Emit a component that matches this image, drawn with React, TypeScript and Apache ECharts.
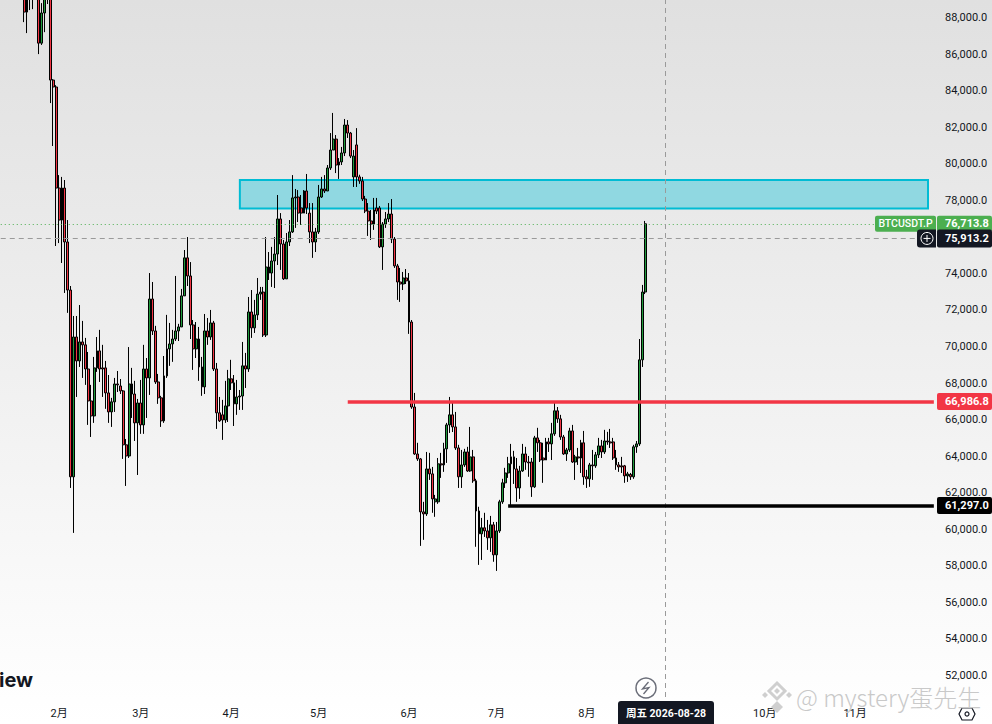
import React, { useEffect, useRef } from "react";
import * as echarts from "echarts";

type Row = number[];
// Each row: open, close, low, high
const candlesJan: Row[] = [
  [89500,88300,87750,89780],[88300,89500,87150,89610],[89230,89500,88410,89610],[89200,89500,88460,89700],
  [89300,89450,89000,89600],[89230,86600,86000,89390],[86600,88250,86500,88790],[88250,89230,87200,89390],
  [89230,89350,88740,89500],[89350,84580,83320,89500],[84580,84200,80970,84630],[84200,78670,75500,84300],
];
const candlesFeb: Row[] = [
  [78670,76920,75660,79380],[76920,78670,74570,79280],[78670,75720,72930,79110],[75720,73090,71840,76920],
  [73090,62870,62260,73310],[62870,70520,59800,71670],[70520,69210,67240,71670],[69210,70250,68880,72270],
  [70250,70090,68280,71400],[70090,68770,67900,70470],[68770,67020,65710,69700],[67020,66200,65050,67900],
  [66200,68830,65820,69430],[68830,69760,68610,70520],[69760,68770,68060,70910],[68830,68770,67240,70090],
  [68830,67460,66590,69210],[67460,66420,65820,68440],[66420,66970,65600,67190],[66970,67950,66420,68280],
  [67950,67900,67510,68660],[67840,67570,67400,68220],[67570,64620,63850,67620],[64620,64010,62370,64940],
  [64010,67950,63900,69970],[67950,67400,66090,68830],[67400,65820,64830,68120],[65820,66910,62970,67130],
];
const candlesMar: Row[] = [
  [66910,65710,65220,68170],[65710,68770,65220,70090],[68770,68280,66090,69370],[68280,72600,67350,74020],
  [72600,70850,70630,73530],[70850,68060,67950,71130],[68060,67190,66860,68500],[67190,65930,65600,67300],
  [65930,68390,65820,69480],[68390,69870,68280,71730],[69870,70140,68940,71290],[70140,70410,69160,70910],
  [70410,70850,70300,73860],[70850,71070,70300,71240],[71070,72770,71070,73150],[72770,74850,72770,75280],
  [74850,73860,73310,75990],[73860,71180,70410,74620],[71180,69870,68720,71450],[69870,70410,69370,71340],
  [70410,68880,68120,71070],[68880,67790,67300,69430],[67790,70850,67400,71780],[70850,70520,70090,71560],
  [70520,71290,70360,72000],[71290,68770,68660,71400],[68770,66370,65490,69100],[66370,65930,65870,67240],
  [66260,65980,64890,67080],[65980,66750,65820,68120],[66750,68230,65870,68720],
];
const candlesApr: Row[] = [
  [68230,68010,67620,69270],[68010,66860,65650,68440],[66860,67240,66260,68170],[67240,67290,66530,67620],
  [67290,68940,66530,70250],[68940,68770,67730,69650],[68770,71890,68610,72710],[71890,71020,70470,73090],
  [71020,71730,70740,72550],[71730,72870,71450,73750],[72870,72980,72550,73260],[72980,70630,70520,73260],
  [70630,74350,70520,75990],[74350,74020,73640,75170],[74020,74680,73260,75450],[74680,75060,73200,75990],
  [75060,76980,74460,78290],[76980,75610,74190,77300],[75610,73700,73640,75830],[73700,75720,73700,76210],
  [75720,76270,75500,76920],[76270,78130,76210,79380],[78130,78180,76490,78620],[78180,77300,76810,78560],
  [77580,77300,76650,78290],[77300,78510,77300,78560],[78510,77580,77250,79440],[77300,76270,75660,77850],
  [76270,75720,74850,77850],[75720,76270,75170,76490],
];
const candlesMay: Row[] = [
  [76270,78180,76160,78840],[78180,78620,78130,79280],[78620,78510,78400,79380],[78510,79770,78510,79930],
  [79770,80750,79660,81680],[80750,81350,80750,82780],[81350,79930,79490,81570],[79930,80100,79170,80310],
  [80100,80590,79930,80920],[80590,82120,80420,82450],[82120,81680,81410,82390],[81680,80420,80310,81740],
  [79280,80420,78730,80750],[81030,79280,78730,81950],[79280,79060,78900,79400],[79060,78070,77960,79280],
  [78070,77410,77300,78240],[77410,76870,76050,77850],[76870,76700,75830,77470],[76700,77470,76380,78130],
  [77580,77410,77250,78130],[77580,75450,75390,77690],[75450,76700,74190,76810],[76700,76980,76490,77360],
  [76980,77250,76810,77850],[77250,75880,75660,78070],[75880,74410,74300,75990],[74410,73530,72550,74520],
  [73530,73420,72440,74300],[73420,73750,73090,74080],[73750,73590,73420,74240],
];
const candlesJun: Row[] = [
  [73590,71340,70690,74020],[71340,66690,66590,71450],[66690,64120,64070,67460],[64120,63850,63740,64730],
  [63850,60950,59090,63900],[60950,60840,59420,61500],[60840,63300,60730,64230],[63300,63030,62700,64180],
  [63030,61660,60900,63410],[61500,61660,60680,61880],[61500,63580,61390,63900],[63580,63520,62810,64180],
  [63520,64400,63140,64730],[64400,65710,63630,65820],[65710,66260,65270,67240],[66260,65600,65320,66910],
  [65600,64450,64340,66420],[64450,62870,62260,64620],[62870,63520,62260,64340],[63520,64230,63410,64400],
  [64230,63190,63140,64510],[63190,63960,63140,65600],[63960,62650,62540,64340],[62650,61000,59040,62760],
  [61000,59750,58050,61230],[59750,60080,58320,60620],[60080,59910,59580,60900],[59910,59530,58870,60510],
  [59530,60240,58760,60730],[60240,58600,58220,60400],
];
const candlesJul: Row[] = [
  [58600,59910,57720,60400],[59910,61500,59800,61610],[61500,62540,61390,62760],[62540,63080,62260,63360],
  [63080,63580,62810,63960],[63580,63960,61330,64670],[63960,63300,62480,64290],[63300,62260,61500,63900],
  [62260,63190,61660,63470],[63190,64120,63140,64670],[64120,63680,63250,64510],[63680,63630,62870,64010],
  [63680,62320,61770,63900],[62320,65000,62260,65110],[65000,64730,64230,65550],[64730,63790,63680,64890],
  [63900,63790,62540,64730],[63790,64780,63790,65000],[64780,64670,64230,65000],[64670,65220,63790,65820],
  [65220,66480,65110,66910],[66480,66040,65820,66690],[66040,65050,64890,66260],[65050,64120,64070,65160],
  [64120,64340,63740,64450],[64340,65380,64230,65550],[65380,63680,63630,65710],[63680,63960,62700,64070],
  [63960,63900,63520,64450],[63900,64730,63080,64890],[64730,62870,62430,65380],
];
const candlesAug: Row[] = [
  [62870,62760,62260,63250],[62760,63520,62320,63630],[63520,63470,62700,64340],[63470,64070,63360,64230],
  [64070,64560,63900,65000],[64560,64230,63900,64890],[64230,64830,64120,65440],[64830,64780,64620,65330],
  [64780,64720,64450,65490],[64780,63900,63790,65000],[63900,63520,63250,64340],[63520,63410,63140,63680],
  [63470,63410,63080,63960],[63470,62920,62540,63520],[62920,63030,62590,63140],[63000,62870,62700,63080],
  [62870,64510,62760,64620],[64510,64670,64180,64830],[64670,69270,64560,70410],[69270,72980,68880,73370],
  [72980,76713.8,72870,76870],
];

const emptyDays = 8;
const totalDays = 321;
const zoneTop = 79110;
const zoneBottom = 77550;
const redLevel = 66986.8;
const blackLevel = 61297.0;
const lastPrice = 76713.8;
const crossPrice = 75913.2;
const zoneStartDay = "2026-04-04";
const zoneEndDay = "2026-11-26";
const redStartDay = "2026-05-11";
const blackStartDay = "2026-07-05";
const crossDay = "2026-08-28";
const hiddenMonth = "09";

const pad = (n: number) => String(n).padStart(2, "0");
const days: string[] = [];
for (let i = 0; i < totalDays; i++) {
  const d = new Date(Date.UTC(2026, 0, 12 + i));
  days.push(`${d.getUTCFullYear()}-${pad(d.getUTCMonth() + 1)}-${pad(d.getUTCDate())}`);
}
const rows: (Row | string[])[] = [
  ...Array.from({ length: emptyDays }, () => ["-", "-", "-", "-"]),
  ...candlesJan, ...candlesFeb, ...candlesMar, ...candlesApr,
  ...candlesMay, ...candlesJun, ...candlesJul, ...candlesAug,
];
const lastDay = days[totalDays - 1];
const money = (v: number) =>
  v.toLocaleString("en-US", { minimumFractionDigits: 1, maximumFractionDigits: 1 });

const UI = "Roboto, 'Noto Sans CJK SC', sans-serif";
const DARK = "#131722";
const RED = "#f23645";
const GREEN = "#4caf50";

export default function App() {
  const ref = useRef<HTMLDivElement>(null);
  useEffect(() => {
    const chart = echarts.init(ref.current!, undefined, { renderer: "svg" });
    chart.setOption({
      animation: false,
      backgroundColor: "transparent",
      grid: { left: -0.7, top: -19, width: 936, height: 731, containLabel: false, outerBoundsMode: "none" },
      xAxis: {
        type: "category",
        data: days,
        boundaryGap: true,
        axisLine: { show: false },
        axisTick: { show: false },
        splitLine: { show: false },
        axisLabel: {
          margin: -4,
          fontFamily: UI,
          fontSize: 11,
          color: DARK,
          interval: (_: number, v: string) => v.endsWith("-01") && v.slice(5, 7) !== hiddenMonth,
          formatter: (v: string) => `${Number(v.slice(5, 7))}月`,
        },
      },
      yAxis: {
        type: "value",
        position: "right",
        min: 50000,
        max: 90000,
        interval: 2000,
        axisLine: { show: false },
        axisTick: { show: false },
        splitLine: { show: false },
        axisLabel: {
          margin: 9.7,
          fontFamily: UI,
          fontSize: 11,
          color: DARK,
          showMinLabel: false,
          showMaxLabel: false,
          formatter: (v: number) => money(v),
        },
      },
      series: [
        {
          type: "candlestick",
          data: rows,
          barWidth: 2.4,
          itemStyle: {
            color: "#1f9a3c",
            color0: RED,
            borderColor: "#000000",
            borderColor0: "#000000",
            borderWidth: 1,
          },
          markArea: {
            silent: true,
            itemStyle: { color: "rgba(0,188,212,0.38)", borderColor: "#00bcd4", borderWidth: 2 },
            data: [[{ coord: [zoneStartDay, zoneTop] }, { coord: [zoneEndDay, zoneBottom] }]],
          },
          markLine: {
            silent: true,
            symbol: "none",
            label: { show: false },
            data: [
              [
                { coord: [days[0], lastPrice], lineStyle: { color: GREEN, type: [1, 3], width: 1 } },
                { coord: [lastDay, lastPrice] },
              ],
              [
                { coord: [days[0], crossPrice], lineStyle: { color: "#9a9a9a", type: [5, 4], width: 1 } },
                { coord: [lastDay, crossPrice] },
              ],
              [
                { coord: [crossDay, 90000], lineStyle: { color: "#9a9a9a", type: [5, 4], width: 1 } },
                { coord: [crossDay, 50670] },
              ],
              [
                { coord: [redStartDay, redLevel], lineStyle: { color: RED, type: "solid", width: 3.5 } },
                { coord: [lastDay, redLevel] },
              ],
              [
                { coord: [blackStartDay, blackLevel], lineStyle: { color: "#000000", type: "solid", width: 3.5 } },
                { coord: [lastDay, blackLevel] },
              ],
            ],
          },
        },
      ],
    });

    const py = (v: number) => chart.convertToPixel({ yAxisIndex: 0 }, v) as number;
    const priceText = (text: string, y: number) => ({
      type: "text", z: 103, x: 945, y,
      style: { text, fill: "#ffffff", font: `bold 11px ${UI}`, textVerticalAlign: "middle", textAlign: "left" },
    });
    const box = (x: number, y: number, w: number, h: number, fill: string, r: number | number[] = 2) => ({
      type: "rect", z: 102, shape: { x, y, width: w, height: h, r }, style: { fill },
    });
    const yLast = py(lastPrice), yCross = py(crossPrice), yRed = py(redLevel), yBlack = py(blackLevel);
    const gray = "#6a6d78";
    const mark = "#cfcfcf";
    chart.setOption({
      graphic: [
        box(875, yLast - 8, 61, 16, GREEN),
        { type: "text", z: 103, x: 905.5, y: yLast, style: { text: "BTCUSDT.P", fill: "#fff", font: `500 10.5px ${UI}`, textAlign: "center", textVerticalAlign: "middle" } },
        box(937, yLast - 8, 55, 16, GREEN),
        priceText(money(lastPrice), yLast),
        box(917, yCross - 9, 19, 18, DARK, [3, 0, 0, 3]),
        box(937, yCross - 9, 55, 18, DARK),
        priceText(money(crossPrice), yCross),
        { type: "circle", z: 103, shape: { cx: 927, cy: yCross, r: 6 }, style: { fill: "none", stroke: "#fff", lineWidth: 1 } },
        { type: "line", z: 103, shape: { x1: 923.5, y1: yCross, x2: 930.5, y2: yCross }, style: { stroke: "#fff", lineWidth: 1 } },
        { type: "line", z: 103, shape: { x1: 927, y1: yCross - 3.5, x2: 927, y2: yCross + 3.5 }, style: { stroke: "#fff", lineWidth: 1 } },
        box(937, yRed - 8.5, 55, 17, RED),
        priceText(money(redLevel), yRed),
        box(937, yBlack - 8.5, 55, 17, "#000000"),
        priceText(money(blackLevel), yBlack),
        box(618, 701, 96, 23, DARK, [3, 3, 0, 0]),
        { type: "text", z: 103, x: 666, y: 713.5, style: { text: "周五 2026-08-28", fill: "#fff", font: `bold 10.5px ${UI}`, textAlign: "center", textVerticalAlign: "middle" } },
        { type: "circle", z: 103, shape: { cx: 646, cy: 688, r: 10 }, style: { fill: "rgba(255,255,255,0.6)", stroke: gray, lineWidth: 1.5 } },
        { type: "polyline", z: 103, shape: { points: [[648.5, 682], [642.5, 689], [649, 687.5], [643.5, 694]] }, style: { fill: "none", stroke: gray, lineWidth: 1.3 } },
        { type: "text", z: 103, x: -1, y: 680, style: { text: "iew", fill: DARK, font: `bold 20px Inter, ${UI}`, textVerticalAlign: "middle" } },
        { type: "polygon", z: 103, shape: { points: [[962, 708], [972, 708], [975, 714], [972, 720], [962, 720], [959, 714]] }, style: { fill: "none", stroke: DARK, lineWidth: 1.2 } },
        { type: "circle", z: 103, shape: { cx: 967, cy: 714, r: 2 }, style: { fill: "none", stroke: DARK, lineWidth: 1.2 } },
        { type: "polygon", z: 104, shape: { points: [[777, 683], [785, 691], [777, 699], [769, 691]] }, style: { fill: "none", stroke: mark, lineWidth: 3 } },
        { type: "polygon", z: 104, shape: { points: [[777, 688], [780, 691], [777, 694], [774, 691]] }, style: { fill: mark } },
        { type: "polygon", z: 104, shape: { points: [[765, 692], [768, 695], [765, 698], [762, 695]] }, style: { fill: mark } },
        { type: "polygon", z: 104, shape: { points: [[789, 692], [792, 695], [789, 698], [786, 695]] }, style: { fill: mark } },
        { type: "polygon", z: 104, shape: { points: [[777, 701], [783, 707], [777, 713], [771, 707]] }, style: { fill: mark } },
        { type: "text", z: 104, x: 796, y: 696, style: { text: "@ mystery蛋先生", fill: "#c9c9c9", font: `300 24px 'Noto Sans CJK SC', sans-serif`, textVerticalAlign: "middle" } },
      ],
    });
    return () => chart.dispose();
  }, []);
  return (
    <div
      ref={ref}
      style={{
        position: "fixed", left: 0, top: 0, width: 992, height: 724,
        background: "linear-gradient(#e0e0e0, #ffffff)",
      }}
    />
  );
}
